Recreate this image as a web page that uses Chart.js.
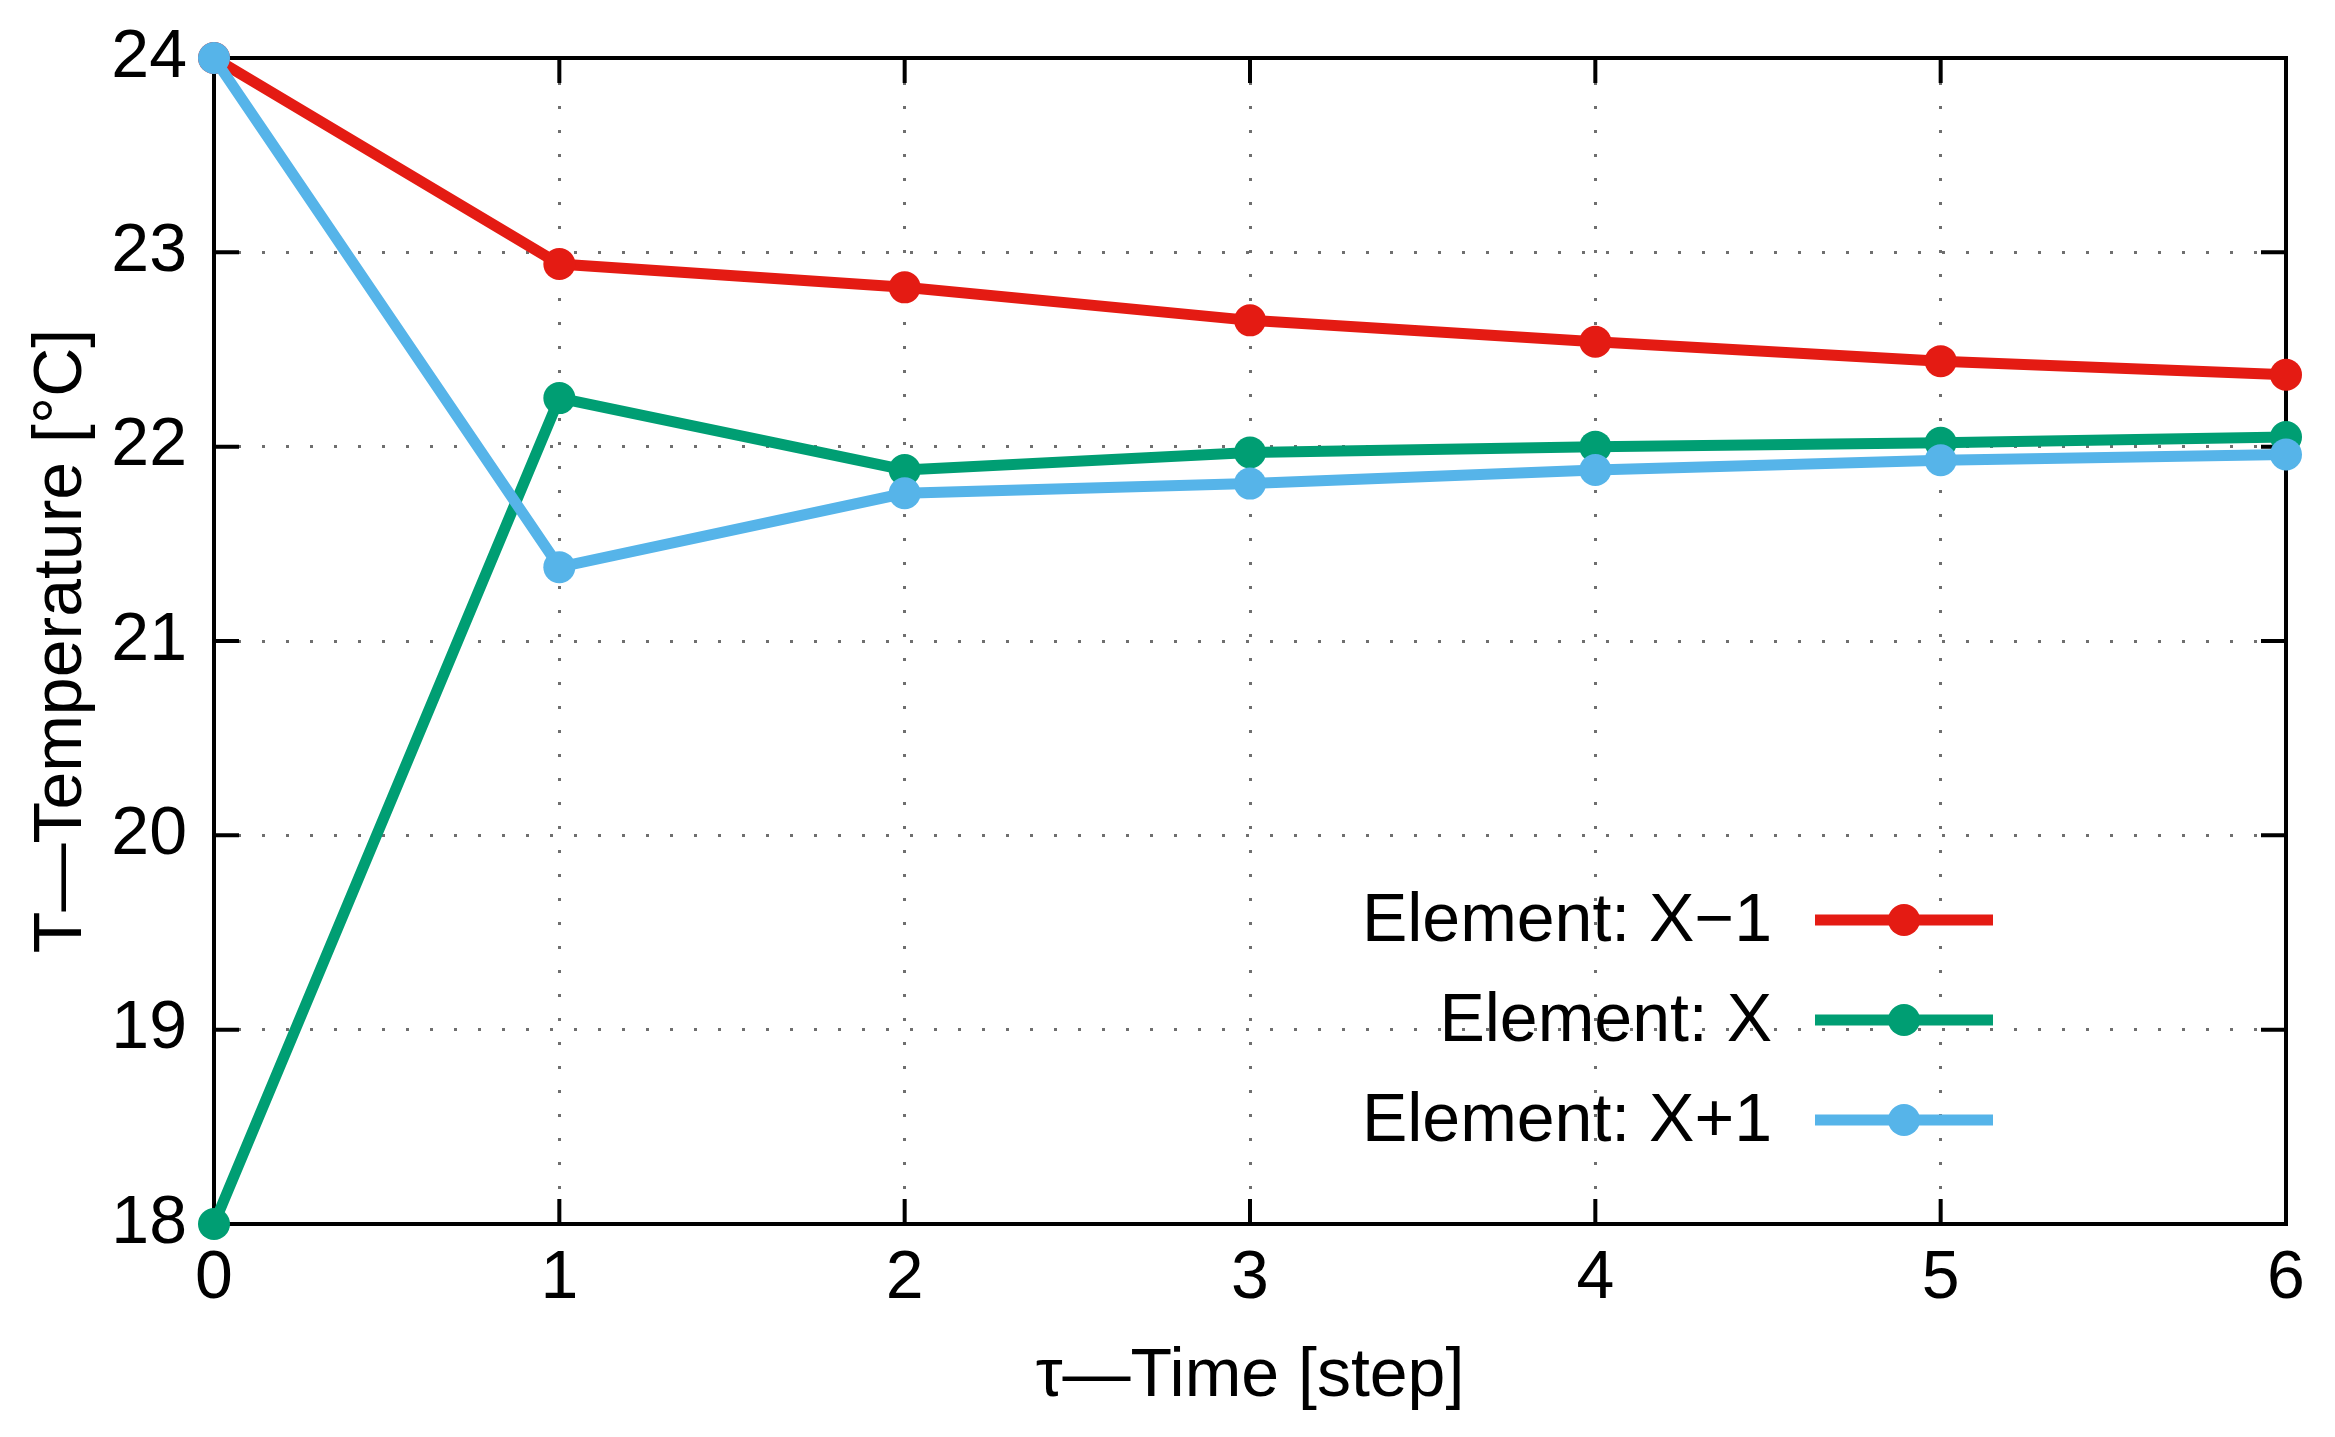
<!DOCTYPE html>
<html>
<head>
<meta charset="utf-8">
<script src="https://cdn.jsdelivr.net/npm/chart.js@4"></script>
<style>
  html, body { margin: 0; padding: 0; background: #fff; }
  #wrap { width: 2335px; height: 1437px; }
</style>
</head>
<body>
<div id="wrap"><canvas id="tempChart" width="2335" height="1437"></canvas></div>
<script>
// time steps and temperatures
const steps = [0, 1, 2, 3, 4, 5, 6];
const elementPrev = [24, 22.94, 22.82, 22.65, 22.54, 22.44, 22.37];
const elementX = [18, 22.25, 21.88, 21.97, 22.0, 22.02, 22.05];
const elementNext = [24, 21.38, 21.76, 21.81, 21.88, 21.93, 21.96];
const seriesLabels = ['Element: X\u22121', 'Element: X', 'Element: X+1'];
const xTicks = [0, 1, 2, 3, 4, 5, 6];
const yTicks = [18, 19, 20, 21, 22, 23, 24];

const FONT = '"Liberation Sans", Arial, sans-serif';
const colors = ['#e41b13', '#009e73', '#56b4e9'];

const toPoints = vals => steps.map((s, i) => ({ x: s, y: vals[i] }));

// gnuplot style frame: border box plus inward ticks on all four sides
const framePlugin = {
  id: 'frame',
  beforeDatasetsDraw(chart) {
    const { ctx, chartArea: a, scales: { x, y } } = chart;
    ctx.save();
    ctx.strokeStyle = '#000';
    ctx.lineWidth = 4;
    const tl = 25;
    ctx.beginPath();
    xTicks.forEach(v => {
      const px = x.getPixelForValue(v);
      ctx.moveTo(px, a.bottom); ctx.lineTo(px, a.bottom - tl);
      ctx.moveTo(px, a.top); ctx.lineTo(px, a.top + tl);
    });
    yTicks.forEach(v => {
      const py = y.getPixelForValue(v);
      ctx.moveTo(a.left, py); ctx.lineTo(a.left + tl, py);
      ctx.moveTo(a.right, py); ctx.lineTo(a.right - tl, py);
    });
    ctx.stroke();
    ctx.strokeRect(a.left, a.top, a.right - a.left, a.bottom - a.top);
    ctx.restore();
  }
};

// legend inside the plot: label on the left, line sample on the right
const keyPlugin = {
  id: 'key',
  afterDatasetsDraw(chart) {
    const { ctx, chartArea: a } = chart;
    ctx.save();
    ctx.font = '68px ' + FONT;
    ctx.textAlign = 'right';
    ctx.textBaseline = 'middle';
    chart.data.datasets.forEach((ds, i) => {
      const yy = a.bottom - 304 + i * 100;
      const x1 = a.right - 471, x2 = a.right - 293;
      ctx.fillStyle = '#000';
      ctx.fillText(ds.label, a.right - 514, yy + 2);
      ctx.strokeStyle = ds.borderColor;
      ctx.lineWidth = 11;
      ctx.beginPath();
      ctx.moveTo(x1, yy); ctx.lineTo(x2, yy);
      ctx.stroke();
      ctx.fillStyle = ds.borderColor;
      ctx.beginPath();
      ctx.arc((x1 + x2) / 2, yy, 16, 0, Math.PI * 2);
      ctx.fill();
    });
    ctx.restore();
  }
};

const gridStyle = {
  color: '#6f6f6f',
  lineWidth: 3,
  drawTicks: false
};

new Chart(document.getElementById('tempChart'), {
  type: 'line',
  data: {
    datasets: [elementPrev, elementX, elementNext].map((vals, i) => ({
      label: seriesLabels[i],
      data: toPoints(vals),
      borderColor: colors[i],
      backgroundColor: colors[i],
      borderWidth: 11,
      pointRadius: 16,
      pointBorderWidth: 0,
      pointHoverRadius: 16,
      tension: 0,
      clip: false,
      order: 3 - i // later series painted on top, as in the original
    }))
  },
  options: {
    responsive: false,
    devicePixelRatio: 1,
    animation: false,
    layout: { padding: { top: 58, right: 49, left: 0, bottom: 0 } },
    plugins: {
      legend: { display: false },
      tooltip: { enabled: false }
    },
    scales: {
      x: {
        type: 'linear',
        min: 0,
        max: 6,
        afterFit(scale) { scale.height = 213; },
        ticks: {
          stepSize: 1,
          padding: 14,
          color: '#000',
          font: { family: FONT, size: 68 }
        },
        grid: Object.assign({}, gridStyle),
        border: { display: false, dash: [3, 21] },
        title: {
          display: true,
          text: '\u03c4\u2014Time [step]',
          color: '#000',
          font: { family: FONT, size: 68 },
          padding: { top: 0, bottom: 19 }
        }
      },
      y: {
        min: 18,
        max: 24,
        afterFit(scale) {
          scale.width = 214;
          scale.paddingTop = 0;
          scale.paddingBottom = 0;
        },
        ticks: {
          stepSize: 1,
          padding: 27,
          color: '#000',
          font: { family: FONT, size: 68 }
        },
        grid: Object.assign({}, gridStyle),
        border: { display: false, dash: [3, 21] },
        title: {
          display: true,
          text: 'T\u2014Temperature [\u00b0C]',
          color: '#000',
          font: { family: FONT, size: 68 },
          padding: { top: 21, bottom: 0 }
        }
      }
    }
  },
  plugins: [framePlugin, keyPlugin]
});
</script>
</body>
</html>
